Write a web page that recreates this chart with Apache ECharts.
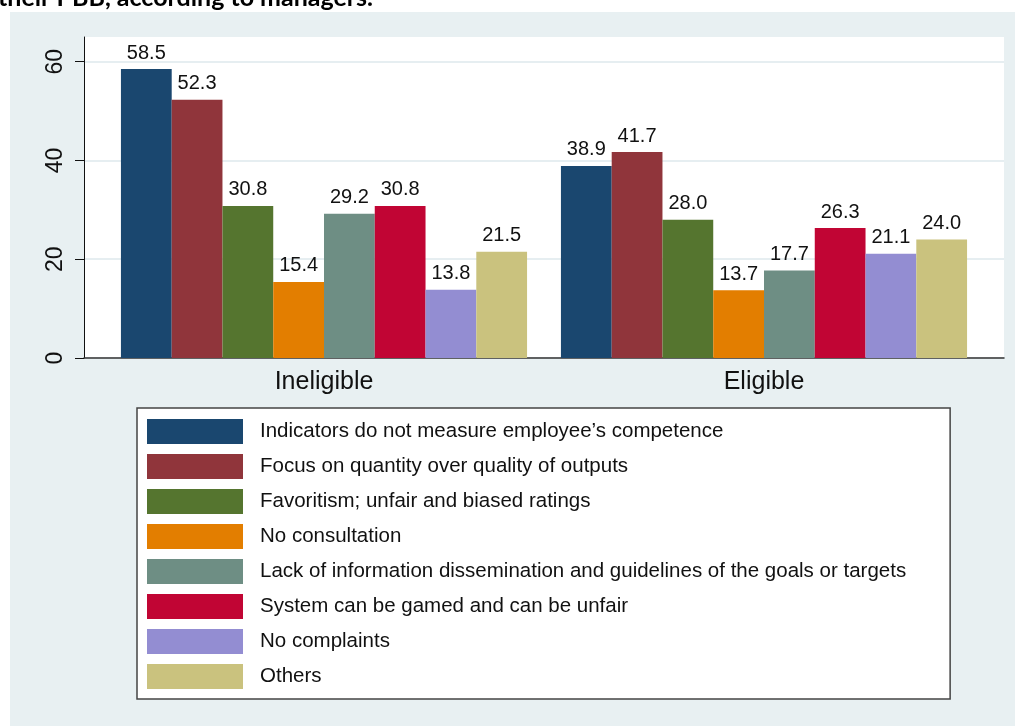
<!DOCTYPE html>
<html>
<head>
<meta charset="utf-8">
<script src="https://cdn.jsdelivr.net/npm/echarts@6/dist/echarts.min.js"></script>
<style>
  html, body { margin: 0; padding: 0; background: #fff; }
  #main { width: 1015px; height: 726px; }
</style>
</head>
<body>
<div id="main"></div>
<script>
var groups = ['Ineligible', 'Eligible'];
var reasons = [
    'Indicators do not measure employee\u2019s competence',
    'Focus on quantity over quality of outputs',
    'Favoritism; unfair and biased ratings',
    'No consultation',
    'Lack of information dissemination and guidelines of the goals or targets',
    'System can be gamed and can be unfair',
    'No complaints',
    'Others'
];
var colors = ['#1a476f', '#90353b', '#55752f', '#e37e00', '#6e8e84', '#c10534', '#938dd2', '#cac27e'];
var indicators = [58.5, 38.9];
var quantity = [52.3, 41.7];
var favoritism = [30.8, 28.0];
var noConsult = [15.4, 13.7];
var lackInfo = [29.2, 17.7];
var gamed = [30.8, 26.3];
var noComplaints = [13.8, 21.1];
var others = [21.5, 24.0];
var yTicks = [0, 20, 40, 60];

var values = [indicators, quantity, favoritism, noConsult, lackInfo, gamed, noComplaints, others];
var font = 'Liberation Sans';

var myChart = echarts.init(document.getElementById('main'));

var series = reasons.map(function (name, i) {
    return {
        name: name,
        type: 'bar',
        xAxisIndex: 0,
        yAxisIndex: 0,
        barGap: '0%',
        barCategoryGap: '7.7%',
        itemStyle: { color: colors[i] },
        label: {
            show: true,
            position: 'top',
            distance: 6,
            color: '#111',
            fontFamily: font,
            fontSize: 20,
            formatter: function (p) { return p.value.toFixed(1); }
        },
        data: values[i]
    };
});

var option = {
    backgroundColor: '#fff',
    animation: false,
    title: {
        text: 'their PBB, according to managers.',
        left: -2,
        top: -15,
        padding: 0,
        textStyle: { fontFamily: 'Lato', fontWeight: 'bold', fontSize: 25, color: '#000' }
    },
    graphic: [{
        type: 'rect',
        z: -10,
        silent: true,
        shape: { x: 10, y: 12, width: 1005, height: 714 },
        style: { fill: '#e8f0f2' }
    }],
    grid: [
        // bars
        { left: 104, right: 31, top: 37, bottom: 368, containLabel: false },
        // plot frame, gridlines and y axis
        { left: 84, right: 11, top: 37, bottom: 368, show: true, backgroundColor: '#fff', borderWidth: 0, z: 0 }
    ],
    xAxis: [
        {
            type: 'category',
            gridIndex: 0,
            data: groups,
            axisLine: { show: false },
            axisTick: { show: false },
            axisLabel: { color: '#111', fontFamily: font, fontSize: 25, margin: 12 }
        },
        {
            type: 'value',
            gridIndex: 1,
            min: 0,
            max: 1,
            axisLine: { show: true, lineStyle: { color: '#333', width: 1.5 } },
            axisTick: { show: false },
            axisLabel: { show: false },
            splitLine: { show: false }
        }
    ],
    yAxis: [
        {
            type: 'value',
            gridIndex: 0,
            min: 0,
            max: 65,
            show: false
        },
        {
            type: 'value',
            gridIndex: 1,
            min: 0,
            max: 65,
            axisLine: { show: true, lineStyle: { color: '#111', width: 1 } },
            axisTick: { show: true, length: 9, lineStyle: { color: '#111' }, customValues: yTicks },
            axisLabel: {
                rotate: 90,
                margin: 17,
                color: '#111',
                fontFamily: font,
                fontSize: 23,
                customValues: yTicks
            },
            splitLine: { show: true, lineStyle: { color: '#e6eef1', width: 2 } }
        }
    ],
    legend: {
        orient: 'vertical',
        left: 137,
        top: 408,
        padding: [11, 44, 10, 10],
        itemWidth: 96,
        itemHeight: 25,
        itemGap: 10,
        icon: 'rect',
        backgroundColor: '#fff',
        borderColor: '#444',
        borderWidth: 1.5,
        borderRadius: 0,
        textStyle: { color: '#111', fontFamily: font, fontSize: 20.5, padding: [4, 0, 0, 12] },
        data: reasons
    },
    series: series
};

myChart.setOption(option);
</script>
</body>
</html>
